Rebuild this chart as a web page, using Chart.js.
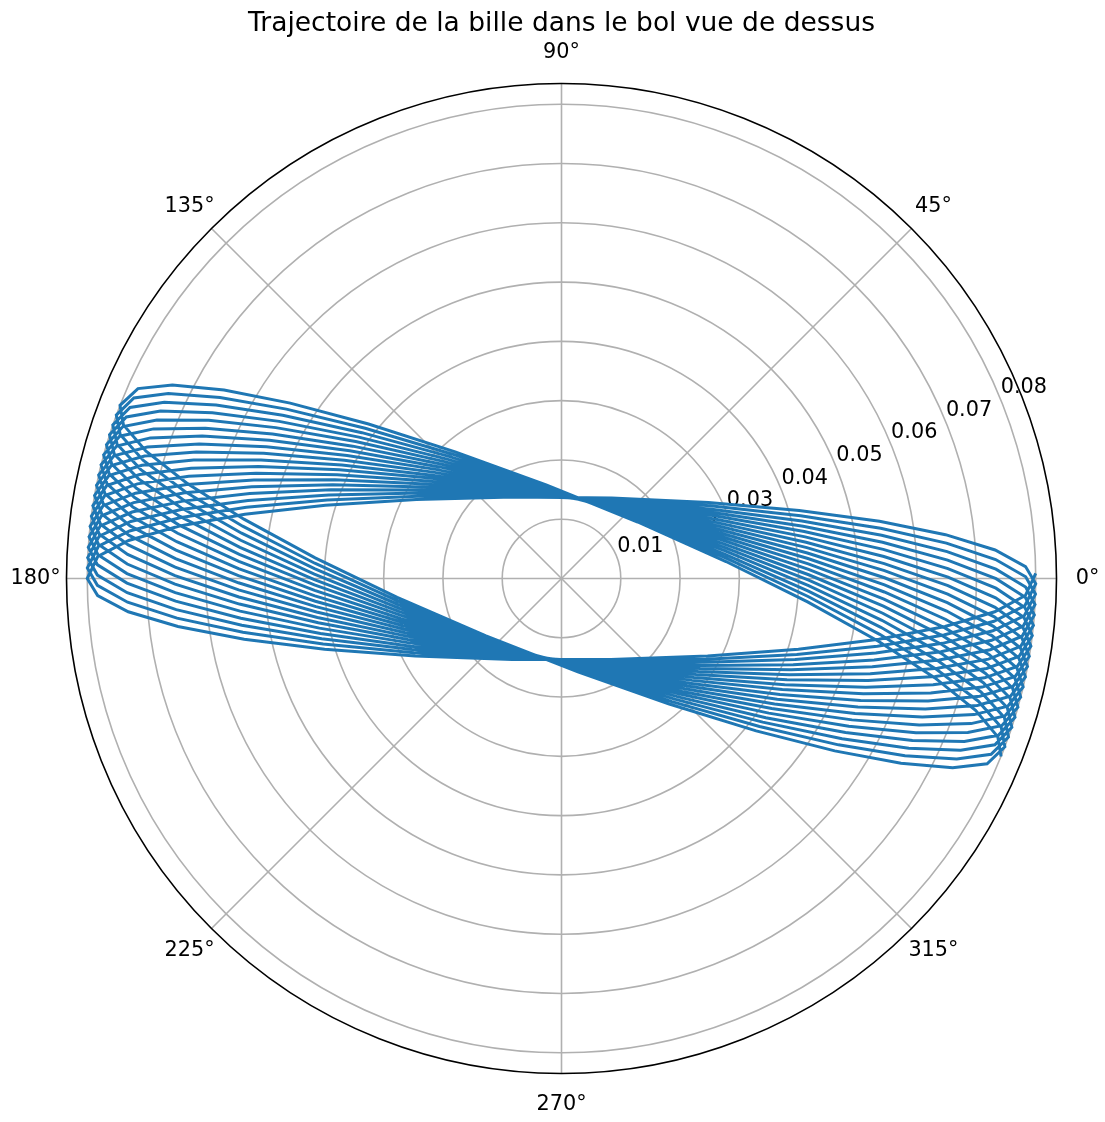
<!DOCTYPE html>
<html>
<head>
<meta charset="utf-8">
<script src="https://cdn.jsdelivr.net/npm/chart.js@4.4.1/dist/chart.umd.min.js"></script>
<style>
  html, body { margin: 0; padding: 0; background: #fff; }
  #wrap { width: 1105px; height: 1122px; position: relative; }
</style>
</head>
<body>
<div id="wrap"><canvas id="chart"></canvas></div>
<script>
// angular ticks (degrees) and their labels
const angleTicks = [0, 45, 90, 135, 180, 225, 270, 315];
const angleLabels = ["0°", "45°", "90°", "135°", "180°", "225°", "270°", "315°"];
// radial ticks
const radialTicks = [0.01, 0.02, 0.03, 0.04, 0.05, 0.06, 0.07, 0.08];
const radialLabels = ["0.01", "0.02", "0.03", "0.04", "0.05", "0.06", "0.07", "0.08"];
const rMax = 0.0835;

// trajectory of the ball: angle (deg) and distance (m)
// one line = half a turn of the precessing ellipse
const angleDeg = [
  -22.05, -19.95, -17.66, -14.91, -11.21, -5.43, 5.89, 36.57, 99.33, 130.01, 141.33, 147.12, 150.81, 153.56, 155.85,
  158.58, 160.68, 162.97, 165.72, 169.42, 175.20, 186.52, 217.20, 279.96, 310.64, 321.96, 327.75, 331.44, 334.19, 336.48,
  -20.79, -18.69, -16.40, -13.65, -9.95, -4.17, 7.15, 37.83, 100.59, 131.27, 142.59, 148.38, 152.07, 154.82, 157.11,
  159.84, 161.94, 164.23, 166.98, 170.68, 176.46, 187.78, 218.46, 281.22, 311.90, 323.22, 329.01, 332.70, 335.45, 337.74,
  -19.53, -17.43, -15.14, -12.39, -8.69, -2.91, 8.41, 39.09, 101.85, 132.53, 143.85, 149.64, 153.33, 156.08, 158.37,
  161.10, 163.20, 165.49, 168.24, 171.94, 177.72, 189.04, 219.72, 282.48, 313.16, 324.48, 330.27, 333.96, 336.71, 339.00,
  -18.27, -16.17, -13.88, -11.13, -7.43, -1.65, 9.67, 40.35, 103.11, 133.79, 145.11, 150.90, 154.59, 157.34, 159.63,
  162.36, 164.46, 166.75, 169.50, 173.20, 178.98, 190.30, 220.98, 283.74, 314.42, 325.74, 331.53, 335.22, 337.97, 340.26,
  -17.01, -14.91, -12.62, -9.87, -6.17, -0.39, 10.93, 41.61, 104.37, 135.05, 146.37, 152.16, 155.85, 158.60, 160.89,
  163.62, 165.72, 168.01, 170.76, 174.46, 180.24, 191.56, 222.24, 285.00, 315.68, 327.00, 332.79, 336.48, 339.23, 341.52,
  -15.75, -13.65, -11.36, -8.61, -4.91, 0.87, 12.19, 42.87, 105.63, 136.31, 147.63, 153.42, 157.11, 159.86, 162.15,
  164.88, 166.98, 169.27, 172.02, 175.72, 181.50, 192.82, 223.50, 286.26, 316.94, 328.26, 334.05, 337.74, 340.49, 342.78,
  -14.49, -12.39, -10.10, -7.35, -3.65, 2.13, 13.45, 44.13, 106.89, 137.57, 148.89, 154.68, 158.37, 161.12, 163.41,
  166.14, 168.24, 170.53, 173.28, 176.98, 182.76, 194.08, 224.76, 287.52, 318.20, 329.52, 335.31, 339.00, 341.75, 344.04,
  -13.23, -11.13, -8.84, -6.09, -2.39, 3.39, 14.71, 45.39, 108.15, 138.83, 150.15, 155.94, 159.63, 162.38, 164.67,
  167.40, 169.50, 171.79, 174.54, 178.24, 184.02, 195.34, 226.02, 288.78, 319.46, 330.78, 336.57, 340.26, 343.01, 345.30,
  -11.97, -9.87, -7.58, -4.83, -1.13, 4.65, 15.97, 46.65, 109.41, 140.09, 151.41, 157.20, 160.89, 163.64, 165.93,
  168.66, 170.76, 173.05, 175.80, 179.50, 185.28, 196.60, 227.28, 290.04, 320.72, 332.04, 337.83, 341.52, 344.27, 346.56,
  -10.71, -8.61, -6.32, -3.57, 0.13, 5.91, 17.23, 47.91, 110.67, 141.35, 152.67, 158.46, 162.15, 164.90, 167.19,
  169.92, 172.02, 174.31, 177.06, 180.76, 186.54, 197.86, 228.54, 291.30, 321.98, 333.30, 339.09, 342.78, 345.53, 347.82,
  -9.45, -7.35, -5.06, -2.31, 1.39, 7.17, 18.49, 49.17, 111.93, 142.61, 153.93, 159.72, 163.41, 166.16, 168.45,
  171.18, 173.28, 175.57, 178.32, 182.02, 187.80, 199.12, 229.80, 292.56, 323.24, 334.56, 340.35, 344.04, 346.79, 349.08,
  -8.19, -6.09, -3.80, -1.05, 2.65, 8.43, 19.75, 50.43, 113.19, 143.87, 155.19, 160.98, 164.67, 167.42, 169.71,
  172.44, 174.54, 176.83, 179.58, 183.28, 189.06, 200.38, 231.06, 293.82, 324.50, 335.82, 341.61, 345.30, 348.05, 350.34,
  -6.93, -4.83, -2.54, 0.21, 3.91, 9.69, 21.01, 51.69, 114.45, 145.13, 156.45, 162.24, 165.93, 168.68, 170.97,
  173.70, 175.80, 178.09, 180.84, 184.54, 190.32, 201.64, 232.32, 295.08, 325.76, 337.08, 342.87, 346.56, 349.31, 351.60,
  -5.67, -3.57, -1.28, 1.47, 5.17, 10.95, 22.27, 52.95, 115.71, 146.39, 157.71, 163.50, 167.19, 169.94, 172.23,
  174.96, 177.06, 179.35, 182.10, 185.80, 191.58, 202.90, 233.58, 296.34, 327.02, 338.34, 344.13, 347.82, 350.57, 352.86,
  -4.41, -2.31, -0.02, 2.73, 6.43, 12.21, 23.53, 54.21, 116.97, 147.65, 158.97, 164.76, 168.45, 171.20, 173.49,
  176.22, 178.32, 180.61, 183.36, 187.06, 192.84, 204.16, 234.84, 297.60, 328.28, 339.60, 345.39, 349.08, 351.83, 354.12,
  -3.15, -1.05, 1.24, 3.99, 7.69, 13.47, 24.79, 55.47, 118.23, 148.91, 160.23, 166.02, 169.71, 172.46, 174.75,
  177.48, 179.58, 181.87, 184.62, 188.32, 194.10, 205.42, 236.10, 298.86, 329.54, 340.86, 346.65, 350.34, 353.09, 355.38,
  -1.89, 0.21, 2.50, 5.25, 8.95, 14.73, 26.05, 56.73, 119.49, 150.17, 161.49, 167.28, 170.97, 173.72, 176.01,
  178.74, 180.84, 183.13, 185.88, 189.58, 195.36, 206.68, 237.36, 300.12, 330.80, 342.12, 347.91, 351.60, 354.35, 356.64,
  -0.63, 1.47, 3.76, 6.51, 10.21, 15.99, 27.31, 57.99, 120.75, 151.43, 162.75, 168.54, 172.23, 174.98, 177.27,
  180.00, 182.10, 184.39, 187.14, 190.84, 196.62, 207.94, 238.62, 301.38, 332.06, 343.38, 349.17, 352.86, 355.61, 357.90,
  0.63
];
const radius = [
  0.0800, 0.0783, 0.0733, 0.0652, 0.0545, 0.0417, 0.0279, 0.0160, 0.0160, 0.0279, 0.0417, 0.0545, 0.0652, 0.0733, 0.0783,
  0.0800, 0.0783, 0.0733, 0.0652, 0.0545, 0.0417, 0.0279, 0.0160, 0.0160, 0.0279, 0.0417, 0.0545, 0.0652, 0.0733, 0.0783,
  0.0800, 0.0783, 0.0733, 0.0652, 0.0545, 0.0417, 0.0279, 0.0160, 0.0160, 0.0279, 0.0417, 0.0545, 0.0652, 0.0733, 0.0783,
  0.0800, 0.0783, 0.0733, 0.0652, 0.0545, 0.0417, 0.0279, 0.0160, 0.0160, 0.0279, 0.0417, 0.0545, 0.0652, 0.0733, 0.0783,
  0.0800, 0.0783, 0.0733, 0.0652, 0.0545, 0.0417, 0.0279, 0.0160, 0.0160, 0.0279, 0.0417, 0.0545, 0.0652, 0.0733, 0.0783,
  0.0800, 0.0783, 0.0733, 0.0652, 0.0545, 0.0417, 0.0279, 0.0160, 0.0160, 0.0279, 0.0417, 0.0545, 0.0652, 0.0733, 0.0783,
  0.0800, 0.0783, 0.0733, 0.0652, 0.0545, 0.0417, 0.0279, 0.0160, 0.0160, 0.0279, 0.0417, 0.0545, 0.0652, 0.0733, 0.0783,
  0.0800, 0.0783, 0.0733, 0.0652, 0.0545, 0.0417, 0.0279, 0.0160, 0.0160, 0.0279, 0.0417, 0.0545, 0.0652, 0.0733, 0.0783,
  0.0800, 0.0783, 0.0733, 0.0652, 0.0545, 0.0417, 0.0279, 0.0160, 0.0160, 0.0279, 0.0417, 0.0545, 0.0652, 0.0733, 0.0783,
  0.0800, 0.0783, 0.0733, 0.0652, 0.0545, 0.0417, 0.0279, 0.0160, 0.0160, 0.0279, 0.0417, 0.0545, 0.0652, 0.0733, 0.0783,
  0.0800, 0.0783, 0.0733, 0.0652, 0.0545, 0.0417, 0.0279, 0.0160, 0.0160, 0.0279, 0.0417, 0.0545, 0.0652, 0.0733, 0.0783,
  0.0800, 0.0783, 0.0733, 0.0652, 0.0545, 0.0417, 0.0279, 0.0160, 0.0160, 0.0279, 0.0417, 0.0545, 0.0652, 0.0733, 0.0783,
  0.0800, 0.0783, 0.0733, 0.0652, 0.0545, 0.0417, 0.0279, 0.0160, 0.0160, 0.0279, 0.0417, 0.0545, 0.0652, 0.0733, 0.0783,
  0.0800, 0.0783, 0.0733, 0.0652, 0.0545, 0.0417, 0.0279, 0.0160, 0.0160, 0.0279, 0.0417, 0.0545, 0.0652, 0.0733, 0.0783,
  0.0800, 0.0783, 0.0733, 0.0652, 0.0545, 0.0417, 0.0279, 0.0160, 0.0160, 0.0279, 0.0417, 0.0545, 0.0652, 0.0733, 0.0783,
  0.0800, 0.0783, 0.0733, 0.0652, 0.0545, 0.0417, 0.0279, 0.0160, 0.0160, 0.0279, 0.0417, 0.0545, 0.0652, 0.0733, 0.0783,
  0.0800, 0.0783, 0.0733, 0.0652, 0.0545, 0.0417, 0.0279, 0.0160, 0.0160, 0.0279, 0.0417, 0.0545, 0.0652, 0.0733, 0.0783,
  0.0800, 0.0783, 0.0733, 0.0652, 0.0545, 0.0417, 0.0279, 0.0160, 0.0160, 0.0279, 0.0417, 0.0545, 0.0652, 0.0733, 0.0783,
  0.0800, 0.0783, 0.0733, 0.0652, 0.0545, 0.0417, 0.0279, 0.0160, 0.0160, 0.0279, 0.0417, 0.0545, 0.0652, 0.0733, 0.0783,
  0.0800, 0.0783, 0.0733, 0.0652, 0.0545, 0.0417, 0.0279, 0.0160, 0.0160, 0.0279, 0.0417, 0.0545, 0.0652, 0.0733, 0.0783,
  0.0800, 0.0783, 0.0733, 0.0652, 0.0545, 0.0417, 0.0279, 0.0160, 0.0160, 0.0279, 0.0417, 0.0545, 0.0652, 0.0733, 0.0783,
  0.0800, 0.0783, 0.0733, 0.0652, 0.0545, 0.0417, 0.0279, 0.0160, 0.0160, 0.0279, 0.0417, 0.0545, 0.0652, 0.0733, 0.0783,
  0.0800, 0.0783, 0.0733, 0.0652, 0.0545, 0.0417, 0.0279, 0.0160, 0.0160, 0.0279, 0.0417, 0.0545, 0.0652, 0.0733, 0.0783,
  0.0800, 0.0783, 0.0733, 0.0652, 0.0545, 0.0417, 0.0279, 0.0160, 0.0160, 0.0279, 0.0417, 0.0545, 0.0652, 0.0733, 0.0783,
  0.0800, 0.0783, 0.0733, 0.0652, 0.0545, 0.0417, 0.0279, 0.0160, 0.0160, 0.0279, 0.0417, 0.0545, 0.0652, 0.0733, 0.0783,
  0.0800, 0.0783, 0.0733, 0.0652, 0.0545, 0.0417, 0.0279, 0.0160, 0.0160, 0.0279, 0.0417, 0.0545, 0.0652, 0.0733, 0.0783,
  0.0800, 0.0783, 0.0733, 0.0652, 0.0545, 0.0417, 0.0279, 0.0160, 0.0160, 0.0279, 0.0417, 0.0545, 0.0652, 0.0733, 0.0783,
  0.0800, 0.0783, 0.0733, 0.0652, 0.0545, 0.0417, 0.0279, 0.0160, 0.0160, 0.0279, 0.0417, 0.0545, 0.0652, 0.0733, 0.0783,
  0.0800, 0.0783, 0.0733, 0.0652, 0.0545, 0.0417, 0.0279, 0.0160, 0.0160, 0.0279, 0.0417, 0.0545, 0.0652, 0.0733, 0.0783,
  0.0800, 0.0783, 0.0733, 0.0652, 0.0545, 0.0417, 0.0279, 0.0160, 0.0160, 0.0279, 0.0417, 0.0545, 0.0652, 0.0733, 0.0783,
  0.0800, 0.0783, 0.0733, 0.0652, 0.0545, 0.0417, 0.0279, 0.0160, 0.0160, 0.0279, 0.0417, 0.0545, 0.0652, 0.0733, 0.0783,
  0.0800, 0.0783, 0.0733, 0.0652, 0.0545, 0.0417, 0.0279, 0.0160, 0.0160, 0.0279, 0.0417, 0.0545, 0.0652, 0.0733, 0.0783,
  0.0800, 0.0783, 0.0733, 0.0652, 0.0545, 0.0417, 0.0279, 0.0160, 0.0160, 0.0279, 0.0417, 0.0545, 0.0652, 0.0733, 0.0783,
  0.0800, 0.0783, 0.0733, 0.0652, 0.0545, 0.0417, 0.0279, 0.0160, 0.0160, 0.0279, 0.0417, 0.0545, 0.0652, 0.0733, 0.0783,
  0.0800, 0.0783, 0.0733, 0.0652, 0.0545, 0.0417, 0.0279, 0.0160, 0.0160, 0.0279, 0.0417, 0.0545, 0.0652, 0.0733, 0.0783,
  0.0800, 0.0783, 0.0733, 0.0652, 0.0545, 0.0417, 0.0279, 0.0160, 0.0160, 0.0279, 0.0417, 0.0545, 0.0652, 0.0733, 0.0783,
  0.0800
];

const toRad = (d) => (d * Math.PI) / 180;

// polar -> cartesian, the chart itself is a scatter on two linear axes
const points = angleDeg.map((a, i) => ({
  x: radius[i] * Math.cos(toRad(a)),
  y: radius[i] * Math.sin(toRad(a)),
}));

const FONT = "'DejaVu Sans', 'Liberation Sans', sans-serif";

// polar grid, spine and tick labels drawn under the trajectory
const polarGrid = {
  id: "polarGrid",
  beforeDatasetsDraw(chart) {
    const ctx = chart.ctx;
    const xs = chart.scales.x;
    const ys = chart.scales.y;
    const cx = xs.getPixelForValue(0);
    const cy = ys.getPixelForValue(0);
    const px = (v) => xs.getPixelForValue(v) - cx;
    const R = px(rMax);

    ctx.save();
    ctx.strokeStyle = "#b0b0b0";
    ctx.lineWidth = 1.6;
    radialTicks.forEach((v) => {
      ctx.beginPath();
      ctx.arc(cx, cy, px(v), 0, Math.PI * 2);
      ctx.stroke();
    });
    angleTicks.forEach((a) => {
      ctx.beginPath();
      ctx.moveTo(cx, cy);
      ctx.lineTo(cx + R * Math.cos(toRad(a)), cy - R * Math.sin(toRad(a)));
      ctx.stroke();
    });

    // radial labels at 22.5 deg
    ctx.fillStyle = "#000";
    ctx.font = "20.8px " + FONT;
    ctx.textAlign = "left";
    ctx.textBaseline = "bottom";
    radialTicks.forEach((v, i) => {
      const r = px(v);
      ctx.fillText(radialLabels[i], cx + r * Math.cos(toRad(22.5)) + 1, cy - r * Math.sin(toRad(22.5)) + 1);
    });

    // outer circle
    ctx.strokeStyle = "#000";
    ctx.lineWidth = 1.6;
    ctx.beginPath();
    ctx.arc(cx, cy, R, 0, Math.PI * 2);
    ctx.stroke();

    // angle labels
    ctx.textAlign = "center";
    ctx.textBaseline = "middle";
    angleTicks.forEach((a, i) => {
      const rl = R + 31;
      ctx.fillText(angleLabels[i], cx + rl * Math.cos(toRad(a)), cy - rl * Math.sin(toRad(a)));
    });
    ctx.restore();
  },
};

new Chart(document.getElementById("chart"), {
  type: "scatter",
  data: {
    datasets: [
      {
        data: points,
        showLine: true,
        borderColor: "#1f77b4",
        backgroundColor: "#1f77b4",
        borderWidth: 3,
        pointRadius: 0,
        tension: 0,
        fill: false,
      },
    ],
  },
  options: {
    responsive: true,
    maintainAspectRatio: false,
    animation: false,
    events: [],
    layout: { padding: { left: 66.5, right: 48.5, top: 0, bottom: 48.5 } },
    scales: {
      x: { type: "linear", min: -rMax, max: rMax, display: false },
      y: { type: "linear", min: -rMax, max: rMax, display: false },
    },
    plugins: {
      legend: { display: false },
      tooltip: { enabled: false },
      title: {
        display: true,
        text: "Trajectoire de la bille dans le bol vue de dessus",
        color: "#000",
        font: { family: FONT, size: 26.5, weight: "normal" },
        padding: { top: 8, bottom: 43.7 },
      },
    },
  },
  plugins: [polarGrid],
});
</script>
</body>
</html>
